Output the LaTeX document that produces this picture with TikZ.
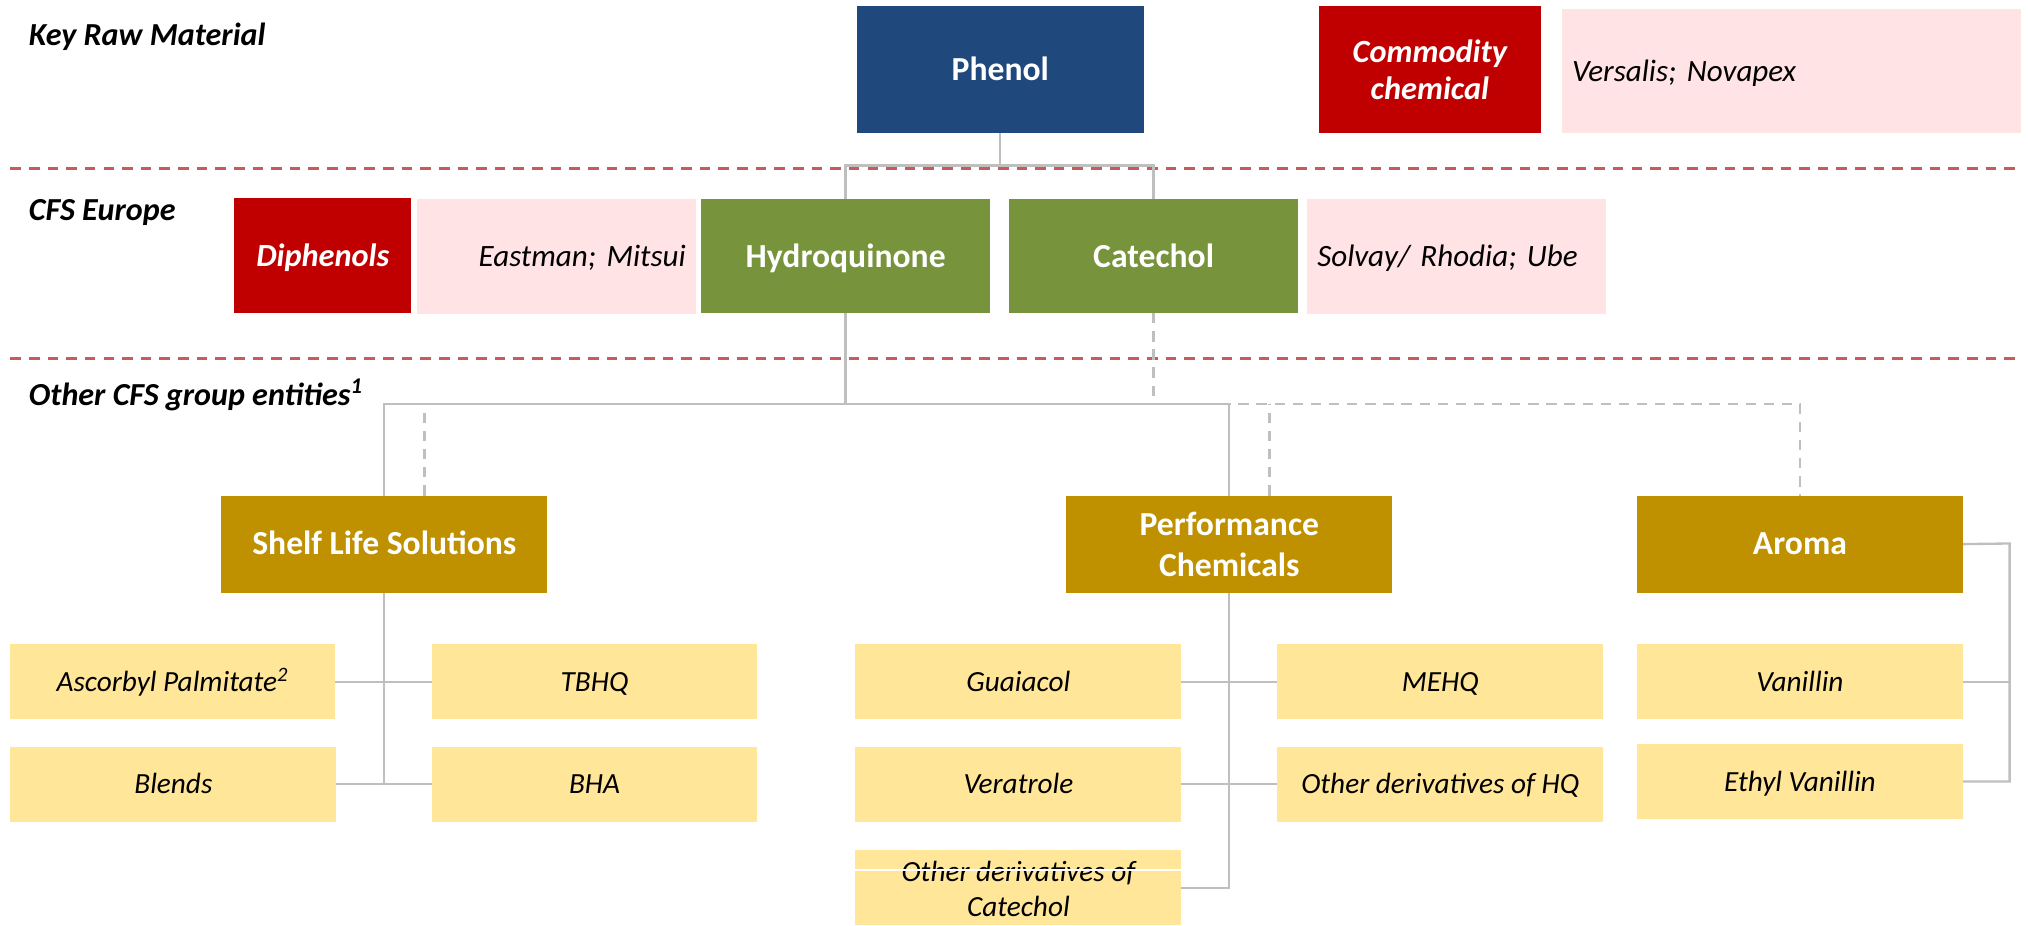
\documentclass[tikz,border=0pt]{standalone}
\usepackage{fontspec}
\setmainfont{Carlito}
\usetikzlibrary{calc}
\frenchspacing
\definecolor{cblue}{HTML}{1F497D}
\definecolor{cred}{HTML}{C00000}
\definecolor{cpink}{HTML}{FFE3E5}
\definecolor{cgreen}{HTML}{77933C}
\definecolor{cgold}{HTML}{BF9000}
\definecolor{cyell}{HTML}{FFE699}
\definecolor{cgrey}{HTML}{BFBFBF}
\definecolor{cdash}{HTML}{C85A5A}
\begin{document}
\begin{tikzpicture}[x=0.5pt,y=-0.5pt,
  sz/.style 2 args={minimum width=#1*0.5pt,minimum height=#2*0.5pt},
  basebox/.style={anchor=north west,inner sep=0pt,outer sep=0pt,draw=none},
  headbox/.style={basebox,text=white,font=\fontsize{13}{15.8}\selectfont\bfseries,align=center},
  one13/.style={text height=8.4pt,text depth=0pt},
  one12/.style={text height=7.8pt,text depth=0pt},
  one11/.style={text height=7.3pt,text depth=0pt},
  tagbox/.style={basebox,fill=cred,text=white,font=\fontsize{12.5}{14}\selectfont\bfseries\itshape,align=center},
  pinkbox/.style={basebox,fill=cpink,font=\fontsize{12}{14}\selectfont\itshape,inner xsep=4pt,one12},
  subbase/.style={basebox,fill=cyell,font=\fontsize{11.3}{13.5}\selectfont\itshape},
  subbox/.style={subbase,align=center},
  sidelbl/.style={anchor=base west,inner sep=0pt,font=\fontsize{12.4}{14}\selectfont\bfseries\itshape},
  conn/.style={draw=cgrey,line width=0.9pt},
  dconn/.style={draw=cgrey,line width=0.9pt,dash pattern=on 4pt off 3pt},
  sepline/.style={draw=cdash,line width=1pt,dash pattern=on 4.1pt off 3.1pt}
]
\useasboundingbox (0,0) rectangle (1568,715);

% separators
\coordinate (s1a) at (8,130);  \coordinate (s1b) at (1562,130);
\coordinate (s2a) at (8,277);  \coordinate (s2b) at (1562,277);
\draw[sepline] (s1a) -- (s1b);
\draw[sepline] (s2a) -- (s2b);

% side labels
\node[sidelbl] (lkey) at (22,35) {Key Raw Material};
\node[sidelbl] (lcfs) at (22,170.5) {CFS Europe};
\node[sidelbl] (loth) at (22,313) {Other CFS group entities\textsuperscript{1}};

% row 1
\node[headbox,one13,fill=cblue,sz={222}{98}] (phenol) at (662,5) {Phenol};
\node[tagbox,sz={172}{98}] (commod) at (1019,5) {Commodity\\chemical};
\node[pinkbox,sz={355}{96},text width=169.5pt,align=left] (versalis) at (1207,7) {Versalis; Novapex};

% row 2
\node[tagbox,text height=8.1pt,text depth=0pt,sz={137}{89}] (diphen) at (181,153) {Diphenols};
\node[pinkbox,sz={216}{89},text width=100pt,align=right] (eastman) at (322,154) {Eastman; Mitsui};
\node[headbox,one13,fill=cgreen,sz={223}{88}] (hq) at (542,154) {Hydroquinone};
\node[headbox,one13,fill=cgreen,sz={223}{88}] (cat) at (780,154) {Catechol};
\node[pinkbox,sz={231}{89},text width=107.5pt,align=left,inner xsep=2pt] (solvay) at (1010,154) {Solvay/ Rhodia; Ube};

% row 3
\node[headbox,one13,fill=cgold,sz={252}{75}] (shelf) at (171,383) {Shelf Life Solutions};
\node[headbox,fill=cgold,sz={252}{75}] (perf) at (824,383) {Performance\\Chemicals};
\node[headbox,one13,fill=cgold,sz={252}{75}] (aroma) at (1265,383) {Aroma};

% row 4
\node[subbox,one11,sz={251}{58}] (asc) at (8,498) {Ascorbyl Palmitate\textsuperscript{2}};
\node[subbox,one11,sz={251}{58}] (tbhq) at (334,498) {TBHQ};
\node[subbox,one11,sz={252}{58}] (blends) at (8,577) {Blends};
\node[subbox,one11,sz={251}{58}] (bha) at (334,577) {BHA};
\node[subbox,one11,sz={252}{58}] (guai) at (661,498) {Guaiacol};
\node[subbox,one11,sz={252}{58}] (mehq) at (987,498) {MEHQ};
\node[subbox,one11,sz={252}{58}] (vera) at (661,577) {Veratrole};
\node[subbox,one11,sz={252}{58}] (ohq) at (987,577) {Other derivatives of HQ};
\node[subbase,sz={252}{58}] (ocat) at (661,657) {\raisebox{2.25pt}[0pt][0pt]{\parbox[t]{120pt}{\centering Other derivatives of\\Catechol}}};
\node[subbox,one11,sz={252}{58}] (van) at (1265,498) {Vanillin};
\node[subbox,one11,sz={252}{58}] (ethyl) at (1265,575) {Ethyl Vanillin};
\draw[white,line width=0.6pt] ([yshift=-7.7pt]ocat.north west) -- ([yshift=-7.7pt]ocat.north east);

% connectors top
\coordinate (j1) at (773,128);
\coordinate (bus) at (0,312);
\draw[conn] (phenol.south) -- (phenol.south |- j1);
\draw[conn] (hq.north) |- (j1) -| (cat.north);
\draw[conn] (hq.south) -- (hq.south |- bus);
\draw[conn] (shelf.north) |- (hq.south |- bus) -| (perf.north);

% dashed connectors
\coordinate (sd) at ([xshift=15.5pt]shelf.north);
\coordinate (pd) at ([xshift=15.5pt]perf.north);
\draw[dconn] (cat.south) -- (cat.south |- bus);
\draw[dconn] (sd) |- (aroma.north |- bus) -- (aroma.north);
\draw[dconn] (pd) -- (pd |- bus);

% shelf life branches
\draw[conn] (shelf.south) -- (shelf.south |- blends.east);
\draw[conn] (asc.east) -- (tbhq.west);
\draw[conn] (blends.east) -- (bha.west);

% performance branches
\draw[conn] (perf.south) |- (ocat.east);
\draw[conn] (guai.east) -- (mehq.west);
\draw[conn] (vera.east) -- (ohq.west);

% aroma branches
\coordinate (ax) at (1553,420);
\draw[conn] (aroma.east) -- (ax) |- (ethyl.east);
\draw[conn] (van.east) -- (van.east -| ax);
\end{tikzpicture}
\end{document}
